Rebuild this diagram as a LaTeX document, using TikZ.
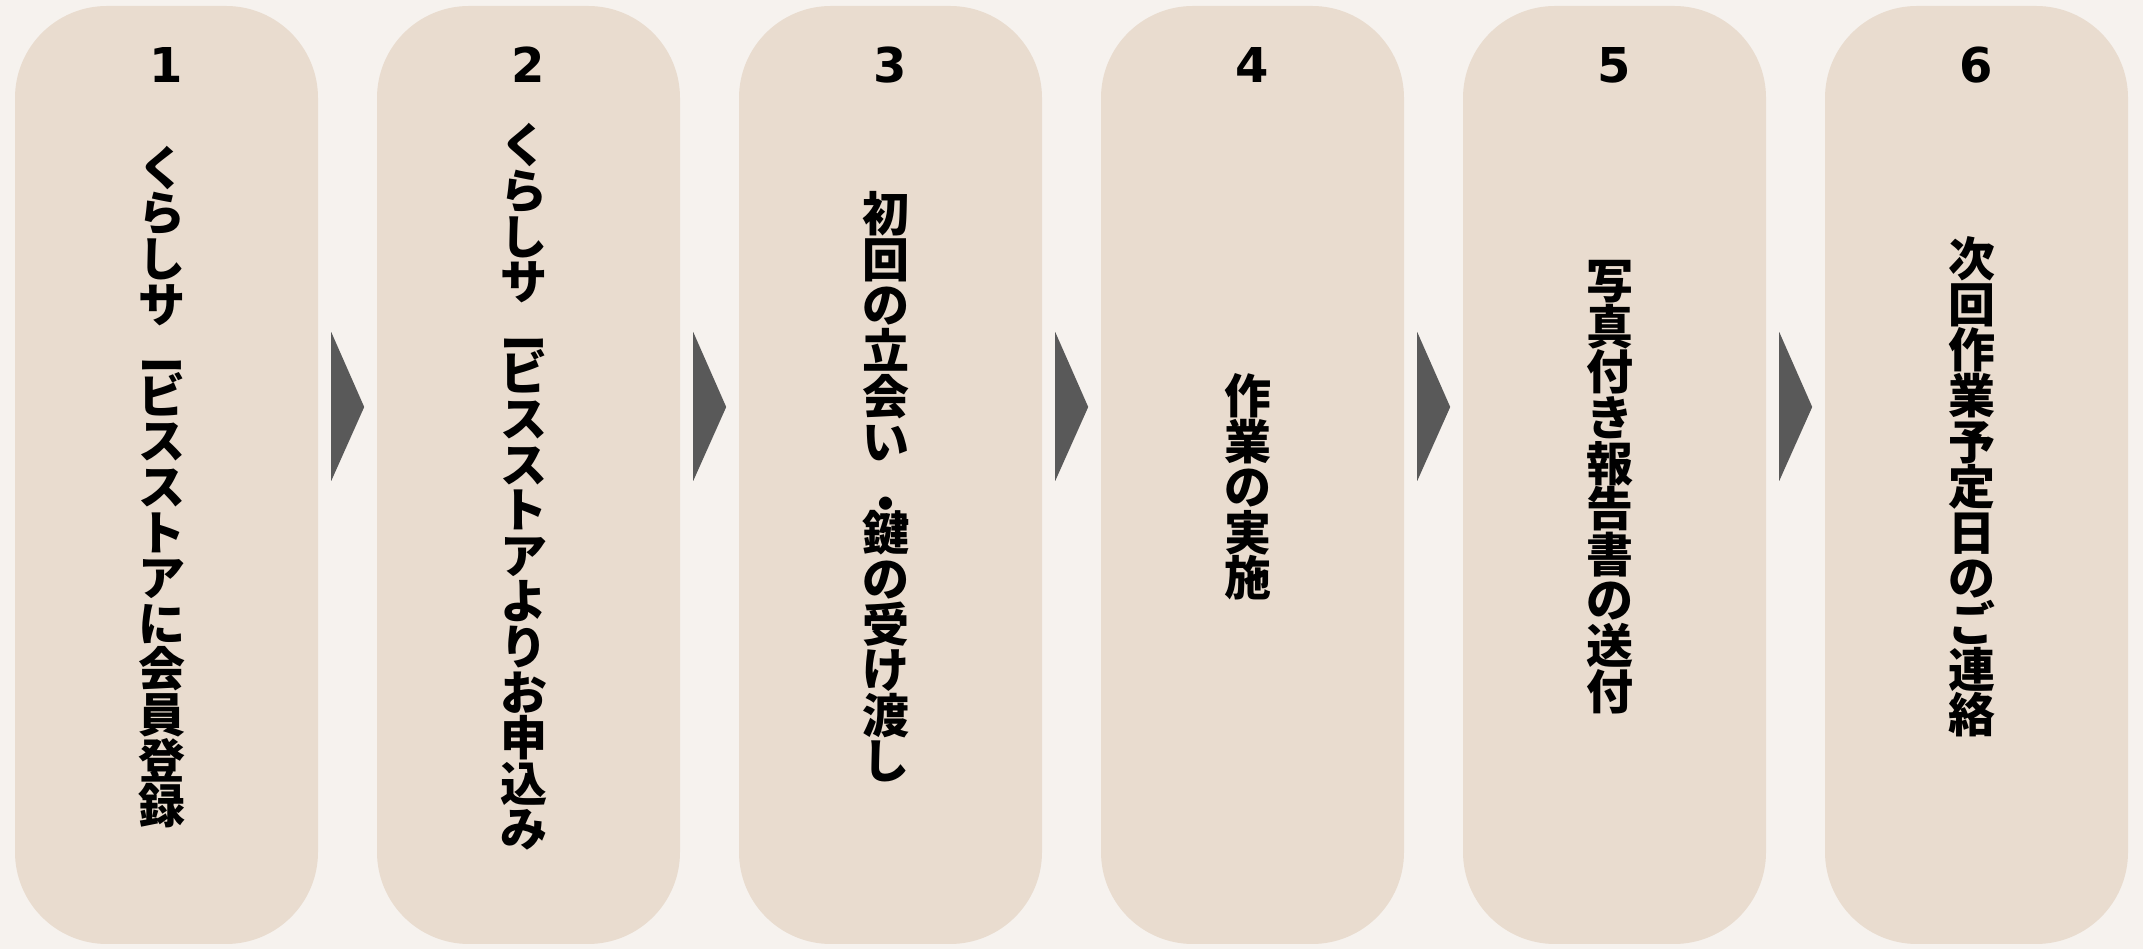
\documentclass[tikz,border=0pt]{standalone}
\usepackage{fontspec}
\newfontfamily\jpfont{Noto Sans CJK JP}
\newfontfamily\numfont{DejaVu Sans}
\usetikzlibrary{calc}
\definecolor{bgc}{HTML}{F6F2EE}
\definecolor{boxc}{HTML}{E9DCCF}
\definecolor{arrc}{HTML}{595959}
\newcommand\lowmk[1]{\raisebox{-0.34em}{#1}}
\newcommand\vcol[1]{\vbox{\baselineskip=45.6pt\lineskiplimit=-100pt\lineskip=0pt\halign{\hfil##\hfil\cr#1\crcr}}}
\begin{document}
\begin{tikzpicture}[x=1pt,y=1pt,
  stepbox/.style={draw=none, fill=boxc, rounded corners=92pt, minimum width=303pt, minimum height=938pt, inner sep=0pt},
  numlabel/.style={font=\numfont\bfseries\fontsize{48}{58}\selectfont, inner sep=0pt, text=black},
  steptext/.style={font=\jpfont\bfseries\fontsize{47}{47}\selectfont, inner sep=0pt, text=black},
  chevron/.style={fill=arrc, draw=none}]
\fill[bgc] (0,0) rectangle (2143,949);
\useasboundingbox (0,0) rectangle (2143,949);
% boxes
\node[stepbox] (b1) at (166.5,474) {};
\node[stepbox] (b2) at (528.5,474) {};
\node[stepbox] (b3) at (890.5,474) {};
\node[stepbox] (b4) at (1252.5,474) {};
\node[stepbox] (b5) at (1614.5,474) {};
\node[stepbox] (b6) at (1976.5,474) {};
% numbers
\node[numlabel] (n1) at (166.5,884) {1};
\node[numlabel] (n2) at (528.5,884) {2};
\node[numlabel] (n3) at (890.5,884) {3};
\node[numlabel] (n4) at (1252.5,884) {4};
\node[numlabel] (n5) at (1614.5,884) {5};
\node[numlabel] (n6) at (1976.5,884) {6};
% texts
\node[steptext] (t1) at (161.5,462) {\vcol{く\cr ら\cr し\cr サ\cr \lowmk{ー}\cr ビ\cr ス\cr ス\cr ト\cr ア\cr に\cr 会\cr 員\cr 登\cr 録}};
\node[steptext] (t2) at (523.5,462) {\vcol{く\cr ら\cr し\cr サ\cr \lowmk{ー}\cr ビ\cr ス\cr ス\cr ト\cr ア\cr よ\cr り\cr お\cr 申\cr 込\cr み}};
\node[steptext] (t3) at (885.5,462) {\vcol{初\cr 回\cr の\cr 立\cr 会\cr い\cr \lowmk{・}\cr 鍵\cr の\cr 受\cr け\cr 渡\cr し}};
\node[steptext] (t4) at (1247.5,462) {\vcol{作\cr 業\cr の\cr 実\cr 施}};
\node[steptext] (t5) at (1609.5,462) {\vcol{写\cr 真\cr 付\cr き\cr 報\cr 告\cr 書\cr の\cr 送\cr 付}};
\node[steptext] (t6) at (1971.5,462) {\vcol{次\cr 回\cr 作\cr 業\cr 予\cr 定\cr 日\cr の\cr ご\cr 連\cr 絡}};
% chevrons between boxes
\foreach \a in {b1,b2,b3,b4,b5}{
  \fill[chevron] ($(\a.east)+(13,143)$) -- ($(\a.east)+(46,68)$) -- ($(\a.east)+(13,-6)$) -- cycle;
}
\end{tikzpicture}
\end{document}
